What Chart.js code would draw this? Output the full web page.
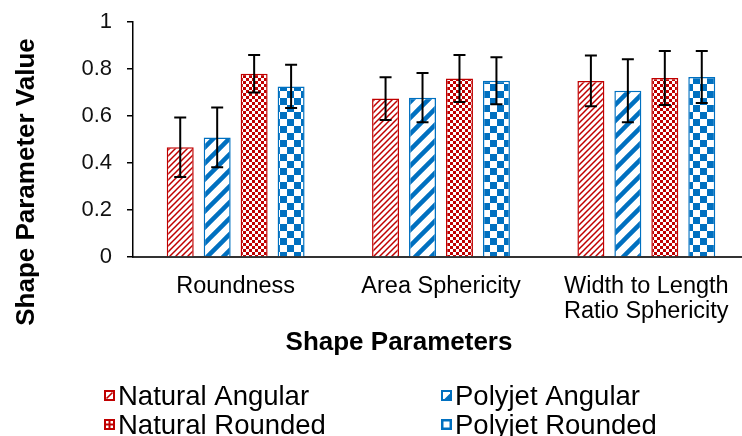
<!DOCTYPE html>
<html>
<head>
<meta charset="utf-8">
<script src="https://cdn.jsdelivr.net/npm/chart.js@4/dist/chart.umd.min.js"></script>
<style>
  html, body { margin: 0; padding: 0; background: #fff; overflow: hidden; }
  #wrap { width: 750px; height: 436px; }
</style>
</head>
<body>
<div id="wrap"><canvas id="c" width="750" height="436"></canvas></div>
<script>
// Shape parameters per category
const categories = ['Roundness', 'Area Sphericity', ['Width to Length', 'Ratio Sphericity']];
const seriesNames = ['Natural Angular', 'Polyjet Angular', 'Natural Rounded', 'Polyjet Rounded'];

// Mean values
const naturalAngular = [0.467, 0.674, 0.749];
const polyjetAngular = [0.509, 0.678, 0.707];
const naturalRounded = [0.780, 0.760, 0.762];
const polyjetRounded = [0.726, 0.750, 0.766];

// Standard deviations (error bars)
const naturalAngularErr = [0.127, 0.091, 0.108];
const polyjetAngularErr = [0.127, 0.105, 0.134];
const naturalRoundedErr = [0.080, 0.100, 0.115];
const polyjetRoundedErr = [0.092, 0.100, 0.111];

const yTicks = [0, 0.2, 0.4, 0.6, 0.8, 1];

const RED = '#C00000';
const BLUE = '#0070C0';
const FONT = "'Liberation Sans', Arial, sans-serif";

// ---- fill patterns ----
function tile(size, draw) {
  const c = document.createElement('canvas');
  c.width = size; c.height = size;
  const g = c.getContext('2d');
  g.fillStyle = '#fff';
  g.fillRect(0, 0, size, size);
  draw(g, size);
  return document.createElement('canvas').getContext('2d').createPattern(c, 'repeat');
}
function diagonal(color, size, width) {
  return tile(size, (g, s) => {
    g.strokeStyle = color;
    g.lineWidth = width;
    g.beginPath();
    g.moveTo(-1, s + 1); g.lineTo(s + 1, -1);
    g.moveTo(-s / 2 - 1, s / 2 + 1); g.lineTo(s / 2 + 1, -s / 2 - 1);
    g.moveTo(s / 2 - 1, s * 1.5 + 1); g.lineTo(s * 1.5 + 1, s / 2 - 1);
    g.stroke();
  });
}
function checker(color, cell) {
  return tile(cell * 2, (g) => {
    g.fillStyle = color;
    g.fillRect(0, 0, cell, cell);
    g.fillRect(cell, cell, cell, cell);
  });
}

const fills = [
  diagonal(RED, 6, 1.5),
  diagonal(BLUE, 16, 4.5),
  checker(RED, 3),
  checker(BLUE, 7)
];
const borders = [RED, BLUE, RED, BLUE];
const values = [naturalAngular, polyjetAngular, naturalRounded, polyjetRounded];
const errors = [naturalAngularErr, polyjetAngularErr, naturalRoundedErr, polyjetRoundedErr];

const datasets = seriesNames.map((name, i) => ({
  label: name,
  data: values[i],
  errors: errors[i],
  backgroundColor: fills[i],
  borderColor: borders[i],
  borderWidth: 1.5,
  categoryPercentage: 0.72,
  barPercentage: 0.73
}));

// ---- error bars ----
const errorBars = {
  id: 'errorBars',
  afterDatasetsDraw(chart) {
    const ctx = chart.ctx;
    const y = chart.scales.y;
    ctx.save();
    ctx.strokeStyle = '#000';
    ctx.lineWidth = 2;
    chart.data.datasets.forEach((ds, di) => {
      const meta = chart.getDatasetMeta(di);
      meta.data.forEach((bar, j) => {
        const v = ds.data[j], e = ds.errors[j];
        const top = y.getPixelForValue(v + e);
        const bot = y.getPixelForValue(v - e);
        ctx.beginPath();
        ctx.moveTo(bar.x, top); ctx.lineTo(bar.x, bot);
        ctx.moveTo(bar.x - 6, top); ctx.lineTo(bar.x + 6, top);
        ctx.moveTo(bar.x - 6, bot); ctx.lineTo(bar.x + 6, bot);
        ctx.stroke();
      });
    });
    ctx.restore();
  }
};

// small legend swatches echoing each fill style
function swatch(ctx, i, x, y) {
  const s = 11;
  ctx.fillStyle = borders[i];
  ctx.fillRect(x, y, s, s);
  ctx.fillStyle = '#fff';
  if (i === 0) {
    ctx.fillRect(x + 2, y + 2, s - 4, s - 4);
    ctx.strokeStyle = RED; ctx.lineWidth = 1.6;
    ctx.beginPath(); ctx.moveTo(x + 2.5, y + s - 2.5); ctx.lineTo(x + s - 2.5, y + 2.5); ctx.stroke();
  } else if (i === 1) {
    ctx.beginPath();
    ctx.moveTo(x + 2, y + 2); ctx.lineTo(x + s - 2, y + 2);
    ctx.lineTo(x + s - 2, y + 3.5); ctx.lineTo(x + 3.5, y + s - 2); ctx.lineTo(x + 2, y + s - 2);
    ctx.closePath(); ctx.fill();
  } else if (i === 2) {
    ctx.fillRect(x + 2, y + 2, 2.5, 2.5);
    ctx.fillRect(x + s - 4.5, y + 2, 2.5, 2.5);
    ctx.fillRect(x + 2, y + s - 4.5, 2.5, 2.5);
    ctx.fillRect(x + s - 4.5, y + s - 4.5, 2.5, 2.5);
  } else {
    ctx.fillRect(x + 2.5, y + 2.5, s - 5, s - 5);
  }
}

// ---- axis titles and legend ----
const decorations = {
  id: 'decorations',
  afterDraw(chart) {
    const ctx = chart.ctx;
    ctx.save();
    ctx.fillStyle = '#000';

    // x axis title
    ctx.font = 'bold 26px ' + FONT;
    ctx.textAlign = 'center';
    ctx.textBaseline = 'alphabetic';
    ctx.fillText('Shape Parameters', 399, 350);

    // y axis title
    ctx.save();
    ctx.translate(34, 182);
    ctx.rotate(-Math.PI / 2);
    ctx.font = 'bold 26px ' + FONT;
    ctx.fillText('Shape Parameter Value', 0, 0);
    ctx.restore();

    // legend in two columns
    const cols = [104, 441];
    const rows = [390, 419];
    ctx.font = '27.5px ' + FONT;
    ctx.textAlign = 'left';
    chart.data.datasets.forEach((ds, i) => {
      const bx = cols[i % 2];
      const by = rows[Math.floor(i / 2)];
      swatch(ctx, i, bx, by);
      ctx.fillStyle = '#000';
      ctx.fillText(ds.label, bx + 14, by + 15);
    });
    ctx.restore();
  }
};

new Chart(document.getElementById('c'), {
  type: 'bar',
  data: { labels: categories, datasets },
  plugins: [errorBars, decorations],
  options: {
    responsive: false,
    animation: false,
    layout: { padding: { top: 22, right: 1, left: 0, bottom: 0 } },
    plugins: { legend: { display: false }, tooltip: { enabled: false } },
    scales: {
      x: {
        afterFit(scale) { scale.height = 179; scale.paddingLeft = 0; scale.paddingRight = 0; },
        grid: { display: true, drawOnChartArea: false, drawTicks: false },
        border: { display: true, color: '#333', width: 2 },
        ticks: {
          color: '#000',
          padding: 17,
          maxRotation: 0,
          autoSkip: false,
          font: { family: FONT, size: 23.5, lineHeight: 1.07 }
        }
      },
      y: {
        min: 0,
        max: 1,
        afterFit(scale) { scale.width = 133; scale.paddingTop = 0; scale.paddingBottom = 0; },
        afterBuildTicks(scale) { scale.ticks = yTicks.map(v => ({ value: v })); },
        grid: { drawOnChartArea: false, drawTicks: true, tickLength: 6, color: '#000', lineWidth: 1.5 },
        border: { display: true, color: '#000', width: 1.5 },
        ticks: {
          color: '#111',
          padding: 15,
          font: { family: FONT, size: 22 },
          callback: (v) => String(Math.round(v * 10) / 10)
        }
      }
    }
  }
});
</script>
</body>
</html>
